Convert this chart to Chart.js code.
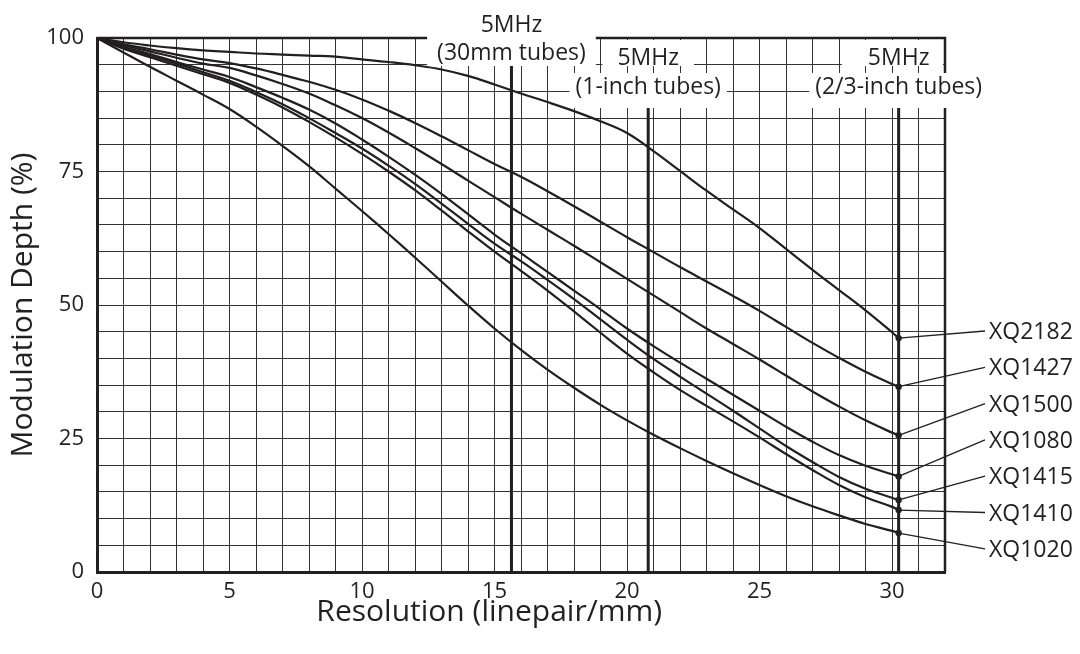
<!DOCTYPE html>
<html>
<head>
<meta charset="utf-8">
<script src="https://cdn.jsdelivr.net/npm/chart.js@4.4.0/dist/chart.umd.min.js"></script>
<style>
  html, body { margin: 0; padding: 0; background: #fff; }
  canvas { display: block; }
</style>
</head>
<body>
<canvas id="chart" width="1080" height="654"></canvas>
<script>
// resolution in linepair/mm (last point is the 5MHz line for 2/3-inch tubes)
const resolution = [0, 1, 2, 3, 4, 5, 6, 7, 8, 9, 10, 11, 12, 13, 14, 15, 16, 17, 18, 19, 20,
  21, 22, 23, 24, 25, 26, 27, 28, 29, 30, 30.25];

// modulation depth (%) per tube
const xq2182 = [100, 99.2, 98.6, 98.1, 97.7, 97.4, 97.1, 96.9, 96.7, 96.5, 96.0, 95.5, 94.9, 94.1, 92.9, 91.3,
  89.6, 88.0, 86.3, 84.4, 82.2, 78.8, 75.1, 71.4, 67.9, 64.4, 60.5, 56.6, 52.8, 49.0, 44.9, 43.8];
const xq1427 = [100, 98.8, 97.9, 96.9, 96.0, 95.3, 94.3, 93.1, 91.8, 90.3, 88.5, 86.4, 84.1, 81.6, 79.0, 76.4,
  74.0, 71.3, 68.5, 65.6, 62.7, 59.9, 57.1, 54.4, 51.7, 48.9, 45.9, 42.9, 40.1, 37.5, 35.2, 34.7];
const xq1500 = [100, 98.6, 97.5, 96.3, 95.2, 94.4, 93.0, 91.4, 89.6, 87.4, 85.0, 82.3, 79.4, 76.4, 73.3, 70.2,
  67.1, 64.1, 61.1, 58.0, 54.9, 51.8, 48.7, 45.6, 42.7, 39.8, 36.8, 33.8, 31.0, 28.4, 26.1, 25.6];
const xq1080 = [100, 98.3, 97.0, 95.5, 94.1, 92.7, 90.8, 88.8, 86.6, 84.0, 81.0, 77.8, 74.4, 70.8, 67.0, 63.2,
  59.7, 56.2, 52.7, 49.2, 45.6, 42.3, 39.2, 36.2, 33.2, 30.2, 27.2, 24.4, 21.9, 19.9, 18.3, 17.9];
const xq1415 = [100, 98.2, 96.7, 95.2, 93.6, 92.0, 89.9, 87.6, 85.0, 82.2, 79.3, 76.1, 72.7, 69.0, 65.2, 61.5,
  58.2, 54.7, 51.1, 47.3, 43.5, 39.9, 36.6, 33.4, 30.2, 26.9, 23.6, 20.6, 17.8, 15.6, 13.9, 13.5];
const xq1410 = [100, 98.0, 96.4, 94.8, 93.2, 91.6, 89.4, 87.0, 84.3, 81.4, 78.3, 75.0, 71.5, 67.7, 63.8, 60.0,
  56.4, 52.7, 48.8, 44.8, 40.9, 37.4, 34.1, 31.1, 28.2, 25.2, 22.1, 19.1, 16.3, 14.0, 12.2, 11.6];
const xq1020 = [100, 97.3, 94.6, 92.0, 89.4, 86.7, 83.4, 79.8, 76.0, 71.8, 67.6, 63.3, 58.9, 54.4, 49.9, 45.6,
  41.6, 37.9, 34.5, 31.3, 28.4, 25.7, 23.2, 20.8, 18.5, 16.3, 14.2, 12.3, 10.6, 9.0, 7.7, 7.3];

const tubeNames = ['XQ2182', 'XQ1427', 'XQ1500', 'XQ1080', 'XQ1415', 'XQ1410', 'XQ1020'];
const tubeValues = [xq2182, xq1427, xq1500, xq1080, xq1415, xq1410, xq1020];

// 5MHz lines for the three tube formats
const markerRes = [15.64, 20.8, 30.25];
const markerFreq = ['5MHz', '5MHz', '5MHz'];
const markerTube = ['(30mm tubes)', '(1-inch tubes)', '(2/3-inch tubes)'];

const xTickLabels = [0, 5, 10, 15, 20, 25, 30];
const yTickLabels = [0, 25, 50, 75, 100];

const ink = '#231f20';
const family = '"Open Sans", "Noto Sans", sans-serif';
const textFont = '23px ' + family;

const annotate = {
  id: 'annotate',
  beforeDatasetsDraw(chart) {
    const { ctx, chartArea: a, scales: { x } } = chart;
    const m = markerRes.map((v) => x.getPixelForValue(v));
    ctx.save();
    ctx.strokeStyle = ink;
    ctx.lineCap = 'butt';

    // top and right frame
    ctx.lineWidth = 2.5;
    ctx.beginPath();
    ctx.moveTo(a.left, a.top);
    ctx.lineTo(a.right, a.top);
    ctx.lineTo(a.right, a.bottom);
    ctx.stroke();

    // white boxes behind the annotations
    ctx.font = textFont;
    ctx.fillStyle = '#fff';
    const w = (s) => ctx.measureText(s).width;
    const w0 = w(markerTube[0]);
    ctx.fillRect(m[0] - w0 / 2 - 10, 0, w0 + 20, 66);
    const f1 = w(markerFreq[1]);
    ctx.fillRect(m[1] - f1 / 2 - 15, a.top + 2, f1 + 30, 26);
    const f2 = w(markerFreq[2]);
    const b2l = m[2] - f2 / 2 - 26;
    ctx.fillRect(b2l, a.top + 2, a.right - 2 - b2l, 26);
    const t1 = w(markerTube[1]);
    ctx.fillRect(m[1] - t1 / 2 - 6, 73, t1 + 12, 35);
    const t2 = w(markerTube[2]);
    ctx.fillRect(m[2] - t2 / 2 - 6, 73, t2 + 12, 35);

    // thick 5MHz lines
    ctx.lineWidth = 3;
    const starts = [66, 108, 108];
    m.forEach((px, i) => {
      ctx.beginPath();
      ctx.moveTo(px, starts[i]);
      ctx.lineTo(px, a.bottom);
      ctx.stroke();
    });
    ctx.restore();
  },
  afterDatasetsDraw(chart) {
    const { ctx, scales: { x, y } } = chart;
    const m = markerRes.map((v) => x.getPixelForValue(v));
    ctx.save();
    ctx.fillStyle = ink;
    ctx.strokeStyle = ink;
    ctx.font = textFont;
    ctx.textAlign = 'center';
    ctx.textBaseline = 'alphabetic';
    ctx.fillText(markerFreq[0], m[0], 32);
    ctx.fillText(markerTube[0], m[0], 60);
    ctx.fillText(markerFreq[1], m[1], 65);
    ctx.fillText(markerFreq[2], m[2], 65);
    ctx.fillText(markerTube[1], m[1], 94);
    ctx.fillText(markerTube[2], m[2], 94);

    // tube labels with leader lines
    ctx.textAlign = 'left';
    ctx.lineWidth = 1.3;
    const last = resolution.length - 1;
    tubeNames.forEach((name, i) => {
      const base = 339 + i * 36.3;
      const px = x.getPixelForValue(resolution[last]);
      const py = y.getPixelForValue(tubeValues[i][last]);
      ctx.beginPath();
      ctx.moveTo(px, py);
      ctx.lineTo(985, base - 8);
      ctx.stroke();
      ctx.fillText(name, 989, base);
    });

    // x axis title
    ctx.font = '30px ' + family;
    ctx.textAlign = 'center';
    ctx.fillText('Resolution (linepair/mm)', x.getPixelForValue(14.8), 621);
    ctx.restore();
  }
};

const lastIndex = resolution.length - 1;
const datasets = tubeNames.map((name, i) => ({
  label: name,
  data: resolution.map((r, j) => ({ x: r, y: tubeValues[i][j] })),
  borderColor: ink,
  backgroundColor: ink,
  borderWidth: 2.2,
  tension: 0.4,
  pointRadius: (c) => (c.dataIndex === lastIndex ? 3.2 : 0),
  pointBorderWidth: 0,
  fill: false
}));

new Chart(document.getElementById('chart'), {
  type: 'line',
  data: { datasets },
  plugins: [annotate],
  options: {
    responsive: false,
    animation: false,
    events: [],
    layout: { padding: { top: 38, right: 135, left: 0, bottom: 0 } },
    plugins: { legend: { display: false }, tooltip: { enabled: false } },
    scales: {
      x: {
        type: 'linear',
        min: 0,
        max: 32,
        afterFit: (s) => { s.height = 82; },
        grid: { color: '#333', lineWidth: 1, drawTicks: false },
        border: { color: ink, width: 3 },
        ticks: {
          stepSize: 1,
          padding: 7,
          color: ink,
          font: { family, size: 22 },
          maxRotation: 0,
          autoSkip: false,
          callback: (v) => (xTickLabels.includes(v) ? v : '')
        }
      },
      y: {
        min: 0,
        max: 100,
        afterFit: (s) => { s.width = 97; },
        grid: { color: '#333', lineWidth: 1, drawTicks: false },
        border: { color: ink, width: 3 },
        ticks: {
          stepSize: 5,
          padding: 13,
          color: ink,
          font: { family, size: 22 },
          autoSkip: false,
          callback: (v) => (yTickLabels.includes(v) ? v : '')
        },
        title: {
          display: true,
          text: 'Modulation Depth (%)',
          color: ink,
          font: { family, size: 30 },
          padding: { top: 5, bottom: 0 }
        }
      }
    }
  }
});
</script>
</body>
</html>
